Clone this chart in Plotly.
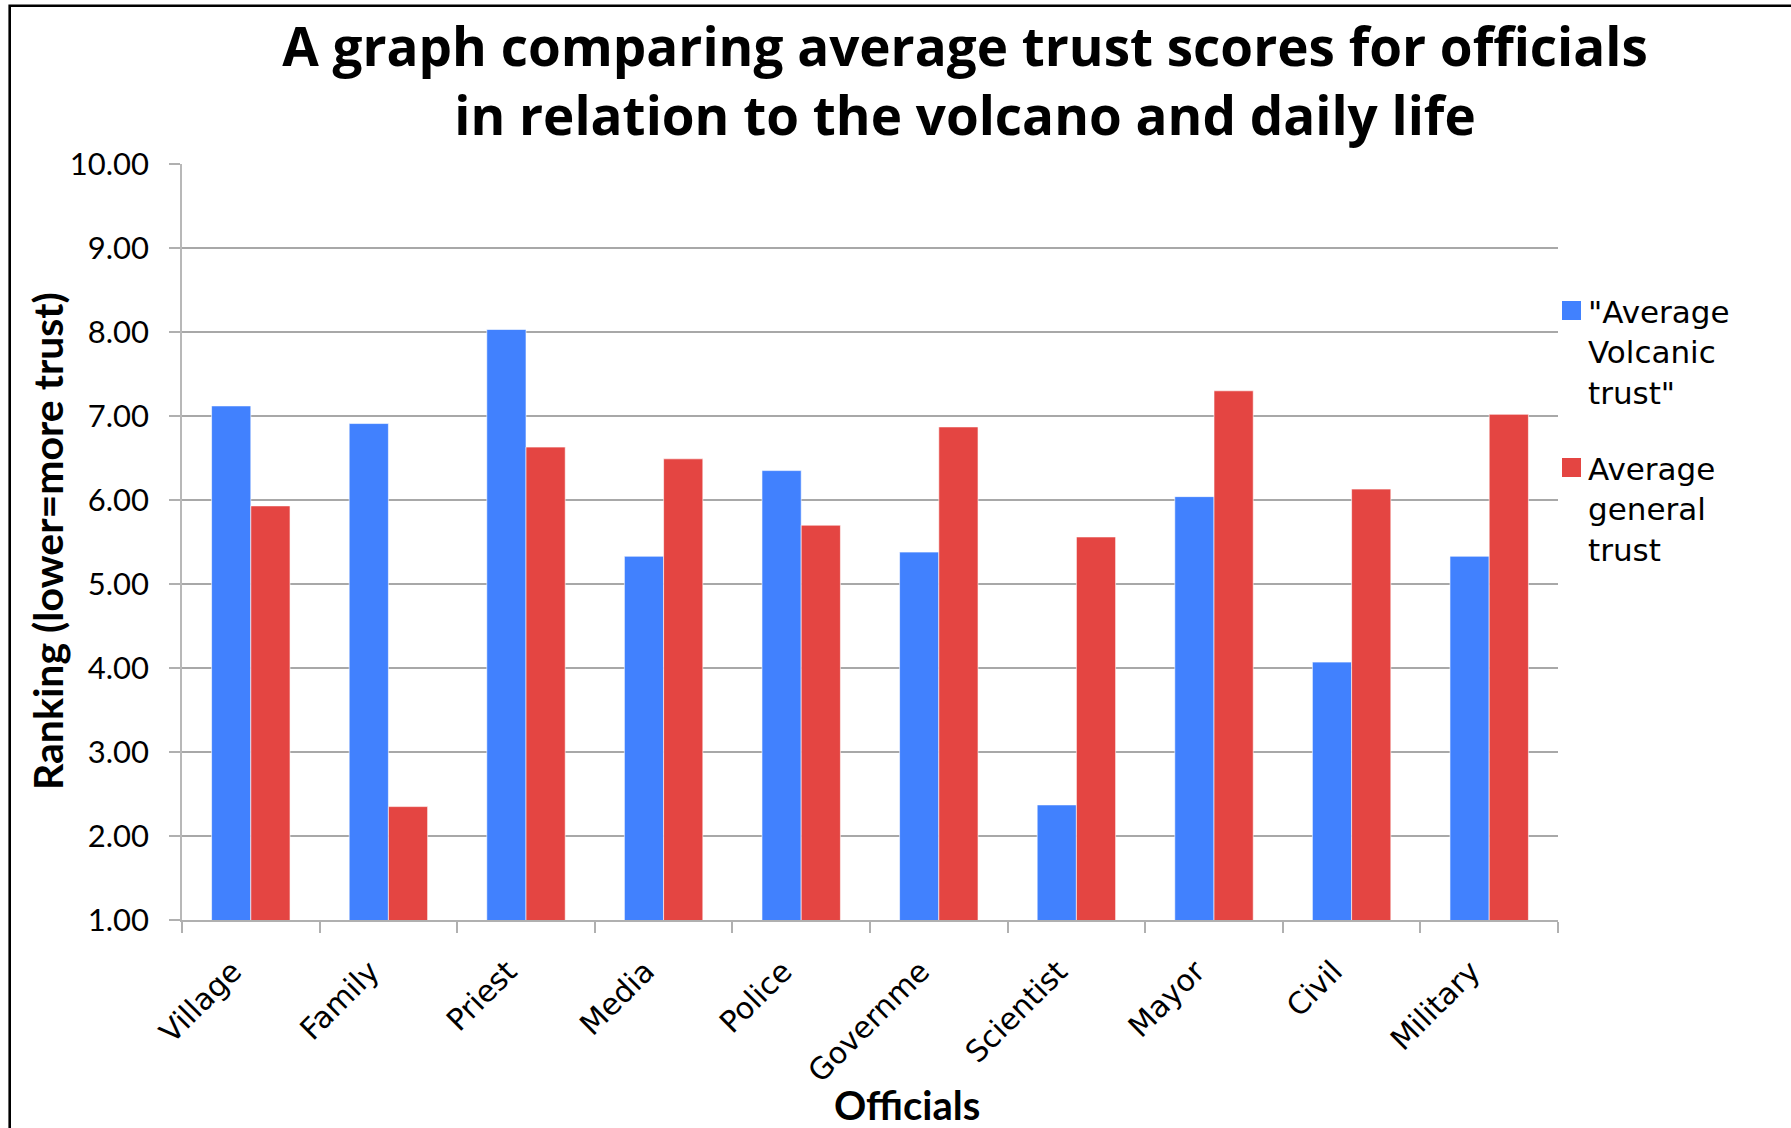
import plotly.graph_objects as go

# ---- data -------------------------------------------------------------
officials = ["Village", "Family", "Priest", "Media", "Police",
             "Governme", "Scientist", "Mayor", "Civil", "Military"]
volcanic_trust = [7.12, 6.91, 8.03, 5.33, 6.35, 5.38, 2.37, 6.04, 4.07, 5.33]
general_trust = [5.93, 2.35, 6.63, 6.49, 5.70, 6.87, 5.56, 7.30, 6.13, 7.02]
series_names = ['"Average Volcanic trust"', "Average general trust"]
legend_lines = [['"Average', "Volcanic", 'trust"'], ["Average", "general", "trust"]]
y_ticks = [1, 2, 3, 4, 5, 6, 7, 8, 9, 10]

# ---- page geometry ----------------------------------------------------
W, H = 1791, 1128
ML, MR, MT, MB = 182, 233, 164, 208
PW, PH = W - ML - MR, H - MT - MB

BLUE = "#4181fe"
RED = "#e44542"
SANS = "Lato"
WIDE = "DejaVu Sans"
TITLE_FONT = "Open Sans"


def px_x(px):
    return (px - ML) / PW


def px_y(py):
    return (H - MB - py) / PH


fig = go.Figure()
fig.add_trace(go.Bar(x=officials, y=volcanic_trust, name=series_names[0],
                     marker=dict(color=BLUE, line=dict(color="rgba(255,255,255,0.6)", width=1))))
fig.add_trace(go.Bar(x=officials, y=general_trust, name=series_names[1],
                     marker=dict(color=RED, line=dict(color="rgba(255,255,255,0.6)", width=1))))

shapes = [
    # frame around the page (top and left edges visible)
    dict(type="rect", xref="paper", yref="paper",
         x0=px_x(9.7), x1=px_x(1810), y0=px_y(1150), y1=px_y(5.7),
         line=dict(color="black", width=2.6), fillcolor="rgba(0,0,0,0)"),
]
annotations = []

# legend: coloured squares with wrapped labels
legend_tops = [301, 458]
for i, (color, lines) in enumerate(zip([BLUE, RED], legend_lines)):
    top = legend_tops[i]
    shapes.append(dict(type="rect", xref="paper", yref="paper",
                       x0=px_x(1562), x1=px_x(1581), y0=px_y(top + 19), y1=px_y(top),
                       fillcolor=color, line=dict(width=0)))
    annotations.append(dict(xref="paper", yref="paper", x=px_x(1586), y=px_y(top - 9),
                            xanchor="left", yanchor="top", align="left",
                            showarrow=False, text="<br>".join(lines),
                            font=dict(family=WIDE, size=31, color="black")))

# axis titles
annotations.append(dict(xref="paper", yref="paper", x=px_x(907), y=px_y(1105),
                        xanchor="center", yanchor="middle", showarrow=False,
                        text="<b>Officials</b>",
                        font=dict(family=SANS, size=40, color="black")))
annotations.append(dict(xref="paper", yref="paper", x=px_x(47), y=px_y(541),
                        xanchor="center", yanchor="middle", showarrow=False,
                        textangle=-90, text="<b>Ranking (lower=more trust)</b>",
                        font=dict(family=SANS, size=41, color="black")))

fig.update_layout(
    width=W, height=H,
    margin=dict(l=ML, r=MR, t=MT, b=MB, pad=0),
    paper_bgcolor="white", plot_bgcolor="white",
    barmode="group", bargap=0.43, bargroupgap=0,
    showlegend=False,
    title=dict(text="<b>A graph comparing average trust scores for officials<br>"
                    "in relation to the volcano and daily life</b>",
               x=965 / W, xanchor="center", xref="container",
               y=1 - 66 / H, yanchor="middle", yref="container",
               font=dict(family=TITLE_FONT, size=53, color="black")),
    font=dict(family=SANS, color="black"),
    shapes=shapes,
    annotations=annotations,
)

fig.update_xaxes(
    type="category", tickson="boundaries", ticks="outside", ticklen=11,
    tickcolor="#b0b0b0", tickwidth=1.5,
    showline=True, linecolor="#b0b0b0", linewidth=1.5,
    showgrid=False, tickangle=-45,
    tickfont=dict(family=WIDE, size=30, color="black"),
    ticklabelstandoff=20, ticklabelshift=-18,
)
fig.update_yaxes(
    range=[1, 10], tickvals=y_ticks, tickformat=".2f",
    ticks="outside", ticklen=11, tickcolor="#b0b0b0", tickwidth=1.5,
    showline=True, linecolor="#b8b8b8", linewidth=1.5,
    showgrid=True, gridcolor="#a8a8a8", gridwidth=1.5,
    zeroline=False,
    tickfont=dict(family=SANS, size=31, color="black"),
    ticklabelstandoff=14,
)

fig.write_html("out.html")
